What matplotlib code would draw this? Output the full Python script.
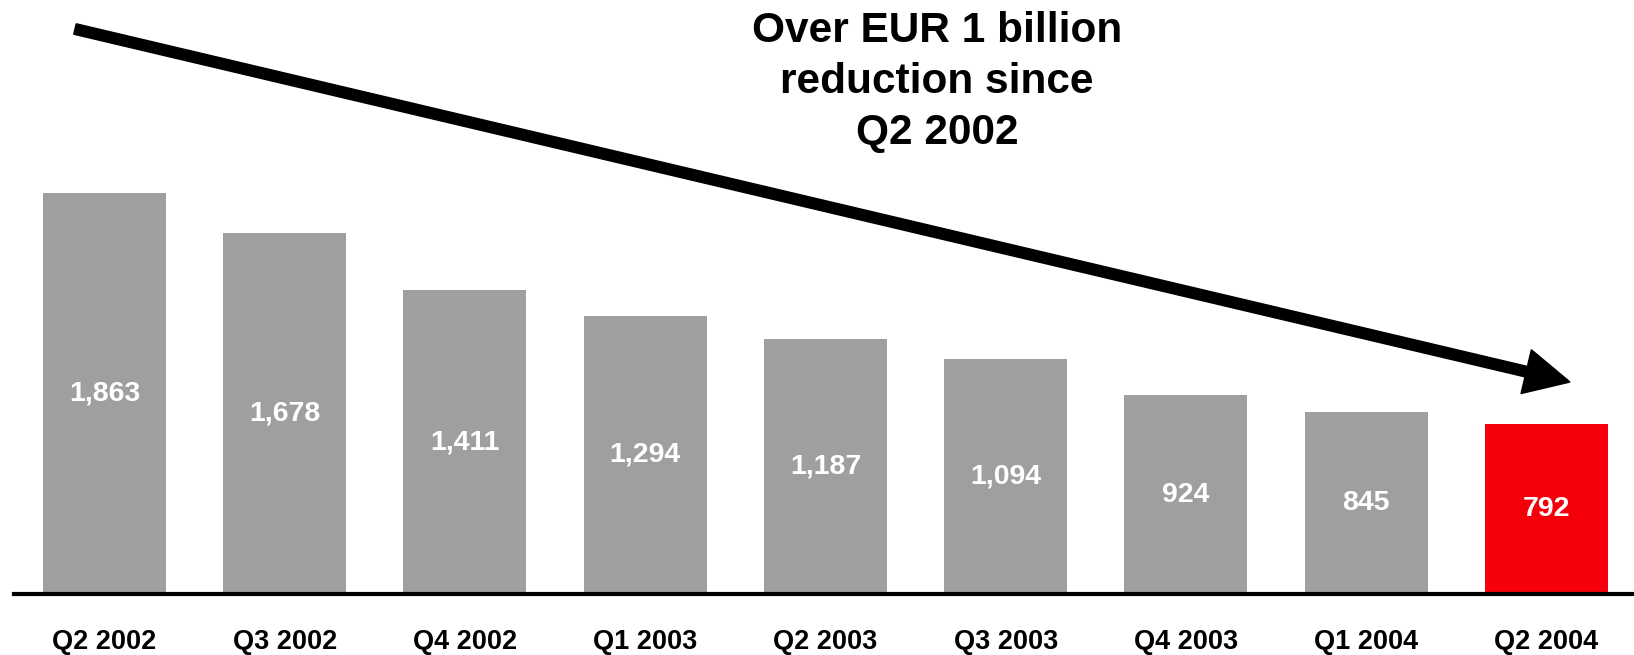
import matplotlib
matplotlib.use("Agg")
import matplotlib.pyplot as plt
import matplotlib.patches as mpatches

categories = ["Q2 2002", "Q3 2002", "Q4 2002", "Q1 2003", "Q2 2003",
              "Q3 2003", "Q4 2003", "Q1 2004", "Q2 2004"]
values = [1863, 1678, 1411, 1294, 1187, 1094, 924, 845, 792]
value_labels = ["1,863", "1,678", "1,411", "1,294", "1,187", "1,094", "924", "845", "792"]
bar_colors = ["#9F9F9F"] * 8 + ["#F5000A"]
title_text = "Over EUR 1 billion\nreduction since\nQ2 2002"

W, H = 1634, 655
fig = plt.figure(figsize=(W / 100, H / 100), dpi=100)
ax = fig.add_axes([14 / W, (H - 594) / H, 1 - 14 / W, 594 / H])

x = list(range(len(categories)))
ax.bar(x, values, width=0.682, color=bar_colors, zorder=2)
ax.set_xlim(-0.502, 8.486)
ax.set_ylim(0, 594 / 0.2152)

for xi, v, lab in zip(x, values, value_labels):
    ax.text(xi, v / 2, lab, ha="center", va="center", color="white",
            fontsize=20.5, fontweight="bold", family="Liberation Sans", zorder=3)

ax.set_xticks(x)
ax.set_xticklabels(categories, fontsize=19.5, fontweight="bold", family="Liberation Sans")
ax.tick_params(axis="x", length=0, pad=25)
ax.set_yticks([])
for s in ["top", "left", "right"]:
    ax.spines[s].set_visible(False)
ax.spines["bottom"].set_linewidth(3)
ax.spines["bottom"].set_zorder(4)

arrow = mpatches.FancyArrow(0.75, (H - 29) / 100, (1570 - 75) / 100, -(382 - 29) / 100,
                            width=0.107, head_width=0.45, head_length=0.45,
                            length_includes_head=True, color="black",
                            transform=fig.dpi_scale_trans)
fig.add_artist(arrow)

fig.text(937 / W, 1 - 82 / H, title_text, ha="center", va="center",
         fontsize=30.5, fontweight="bold", family="Liberation Sans", linespacing=1.34)

fig.savefig("out.png", dpi=100)
